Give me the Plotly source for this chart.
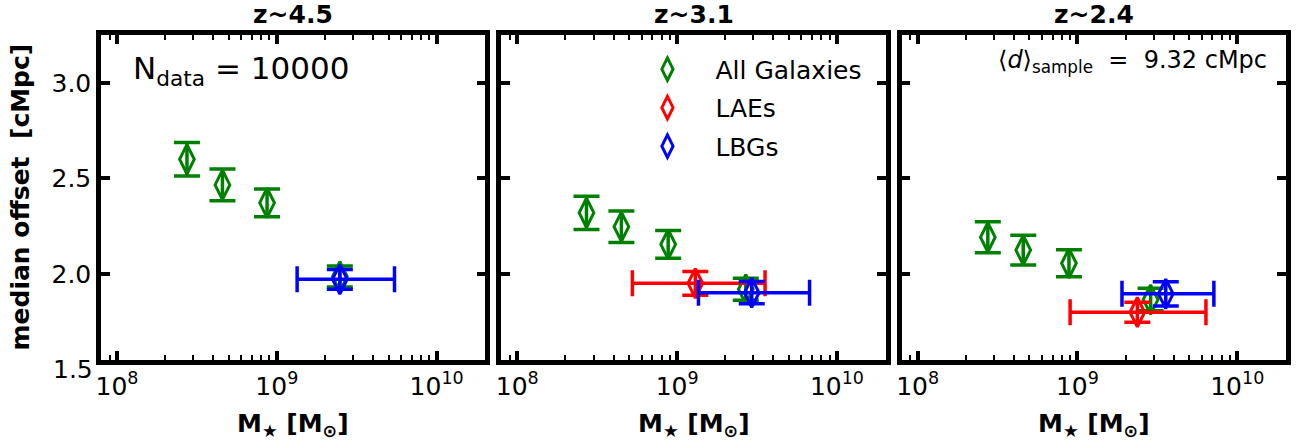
import plotly.graph_objects as go

# ---------------- data ----------------
titles = ["z~4.5", "z~3.1", "z~2.4"]

all_mass_z45 = [2.74e8, 4.57e8, 8.69e8, 2.48e9]
all_off_z45 = [2.600, 2.466, 2.372, 1.987]
all_err_z45 = [0.088, 0.083, 0.073, 0.055]

all_mass_z31 = [2.71e8, 4.48e8, 8.79e8, 2.69e9]
all_off_z31 = [2.320, 2.247, 2.155, 1.920]
all_err_z31 = [0.087, 0.083, 0.073, 0.057]

all_mass_z24 = [2.75e8, 4.58e8, 8.85e8, 2.87e9]
all_off_z24 = [2.192, 2.125, 2.056, 1.866]
all_err_z24 = [0.081, 0.078, 0.071, 0.059]

lae_mass = [1.30e9, 2.37e9]
lae_mass_lo = [5.25e8, 9.0e8]
lae_mass_hi = [3.55e9, 6.37e9]
lae_off = [1.951, 1.800]
lae_err = [0.062, 0.052]

lbg_mass = [2.48e9, 2.93e9, 3.57e9]
lbg_mass_lo = [1.34e9, 1.36e9, 1.90e9]
lbg_mass_hi = [5.45e9, 6.74e9, 7.14e9]
lbg_off = [1.972, 1.902, 1.896]
lbg_err = [0.052, 0.058, 0.063]

y_range = [1.55, 3.25]
y_ticks = [2.0, 2.5, 3.0]
y_low_label = 1.5
x_range_log = [7.9, 10.305]
x_ticks = [1e8, 1e9, 1e10]
x_ticktext = ["10<sup>8</sup>", "10<sup>9</sup>", "10<sup>10</sup>"]
n_data = 10000
d_sample = 9.32

FONT = "DejaVu Sans"
GREEN, RED, BLUE = "#008000", "#ff0000", "#0000ff"
MSIZE, MLW = 21, 3
EBW, EBT = 13, 3.5

minor_vals = [k * 10 ** d for d in (7, 8, 9, 10) for k in range(2, 10)]

fig = go.Figure()

def add_pts(ax, x, y, ey, color, name, show, exm=None, exp=None):
    kw = dict(
        x=x, y=y, mode="markers", name=name, legendgroup=name, showlegend=show,
        marker=dict(symbol="diamond-tall-open", size=MSIZE, color=color, line=dict(width=MLW, color=color)),
        error_y=dict(type="data", array=ey, visible=True, color=color, thickness=EBT, width=EBW),
        xaxis="x" + ("" if ax == 1 else str(ax)), yaxis="y" + ("" if ax == 1 else str(ax)),
        hoverinfo="skip",
    )
    if exm is not None:
        kw["error_x"] = dict(type="data", symmetric=False, array=exp, arrayminus=exm, visible=True,
                             color=color, thickness=EBT, width=EBW)
    fig.add_trace(go.Scatter(**kw))

def lohi(m, lo, hi):
    return [m - lo], [hi - m]

add_pts(1, all_mass_z45, all_off_z45, all_err_z45, GREEN, "All Galaxies", False)
m, p = lohi(lbg_mass[0], lbg_mass_lo[0], lbg_mass_hi[0])
add_pts(1, [lbg_mass[0]], [lbg_off[0]], [lbg_err[0]], BLUE, "LBGs", False, m, p)
add_pts(2, all_mass_z31, all_off_z31, all_err_z31, GREEN, "All Galaxies", True)
m, p = lohi(lae_mass[0], lae_mass_lo[0], lae_mass_hi[0])
add_pts(2, [lae_mass[0]], [lae_off[0]], [lae_err[0]], RED, "LAEs", True, m, p)
m, p = lohi(lbg_mass[1], lbg_mass_lo[1], lbg_mass_hi[1])
add_pts(2, [lbg_mass[1]], [lbg_off[1]], [lbg_err[1]], BLUE, "LBGs", True, m, p)
add_pts(3, all_mass_z24, all_off_z24, all_err_z24, GREEN, "All Galaxies", False)
m, p = lohi(lae_mass[1], lae_mass_lo[1], lae_mass_hi[1])
add_pts(3, [lae_mass[1]], [lae_off[1]], [lae_err[1]], RED, "LAEs", False, m, p)
m, p = lohi(lbg_mass[2], lbg_mass_lo[2], lbg_mass_hi[2])
add_pts(3, [lbg_mass[2]], [lbg_off[2]], [lbg_err[2]], BLUE, "LBGs", False, m, p)

W = 1301
L, R, T, B = 101, 10, 35, 82
pw = W - L - R
doms = [(0, 386 / pw), (402 / pw, 788 / pw), (804 / pw, 1.0)]

axis_common = dict(showline=True, linecolor="black", linewidth=4.5, mirror="allticks",
                   ticks="inside", tickcolor="black", showgrid=False, zeroline=False,
                   tickfont=dict(family=FONT, size=25, color="black"))
minor_spec = dict(ticks="inside", tickmode="array", tickvals=minor_vals, ticklen=5, tickwidth=2, tickcolor="black")

layout = dict(
    width=W, height=442, margin=dict(l=L, r=R, t=T, b=B),
    paper_bgcolor="white", plot_bgcolor="white",
    font=dict(family=FONT, color="black"),
    legend=dict(x=0.4375, y=0.965, xanchor="left", yanchor="top", bgcolor="rgba(0,0,0,0)",
                font=dict(family=FONT, size=25, color="black"), itemwidth=86,
                tracegroupgap=3, traceorder="grouped", itemsizing="trace"),
)
for i in range(3):
    sfx = "" if i == 0 else str(i + 1)
    layout["xaxis" + sfx] = dict(
        axis_common, domain=list(doms[i]), type="log", range=x_range_log, anchor="y" + sfx,
        tickmode="array", tickvals=x_ticks, ticktext=x_ticktext, ticklen=9, tickwidth=3.5,
        minor=minor_spec,
    )
    # top copy of the x axis so that minor ticks also appear on the upper frame
    layout["xaxis" + str(i + 4)] = dict(
        domain=list(doms[i]), type="log", range=x_range_log, anchor="y" + sfx,
        overlaying="x" + sfx, side="top", showline=False, showgrid=False, zeroline=False,
        ticks="inside", tickcolor="black", tickmode="array", tickvals=x_ticks, ticklen=9, tickwidth=3.5,
        showticklabels=False, minor=minor_spec,
    )
    layout["yaxis" + sfx] = dict(
        axis_common, domain=[0, 1], range=y_range, anchor="x" + sfx,
        tickmode="array", tickvals=y_ticks, ticktext=[f"{v:.1f}" for v in y_ticks],
        showticklabels=(i == 0), ticklen=9, tickwidth=3.5,
    )
fig.update_layout(**layout)

ann = []
for i in range(3):
    cx = (doms[i][0] + doms[i][1]) / 2
    ann.append(dict(text="<b>" + titles[i] + "</b>", x=cx, y=1, xref="paper", yref="paper",
                    xanchor="center", yanchor="bottom", yshift=4, showarrow=False,
                    font=dict(family=FONT, size=25, color="black")))
    ann.append(dict(text="<b>M<sub>\u2605</sub> [M<sub>\u2299</sub>]</b>", x=cx, y=0, xref="paper", yref="paper",
                    xanchor="center", yanchor="top", yshift=-47, showarrow=False,
                    font=dict(family=FONT, size=25, color="black")))
ann.append(dict(text="<b>median offset\u00a0\u00a0[cMpc]</b>", x=0, y=0.5, xref="paper", yref="paper",
                xanchor="center", yanchor="middle", xshift=-81, textangle=-90, showarrow=False,
                font=dict(family=FONT, size=25, color="black")))
ann.append(dict(text=f"{y_low_label:.1f}", x=0,
                y=(y_low_label - y_range[0]) / (y_range[1] - y_range[0]), xref="paper", yref="paper",
                xanchor="right", yanchor="middle", xshift=-6, showarrow=False,
                font=dict(family=FONT, size=25, color="black")))
ann.append(dict(text=f"N<sub>data</sub> = {n_data}", x=30 / pw, y=0.892, xref="paper", yref="paper",
                xanchor="left", yanchor="middle", showarrow=False,
                font=dict(family=FONT, size=31, color="black")))
ann.append(dict(text=f"\u27e8<i>d</i>\u27e9<sub>sample</sub>\u00a0\u00a0=\u00a0\u00a0{d_sample:.2f} cMpc",
                x=(1274 - L) / pw, y=0.917, xref="paper", yref="paper",
                xanchor="right", yanchor="middle", showarrow=False,
                font=dict(family=FONT, size=24, color="black")))
fig.update_layout(annotations=ann)

fig.write_html("out.html")
